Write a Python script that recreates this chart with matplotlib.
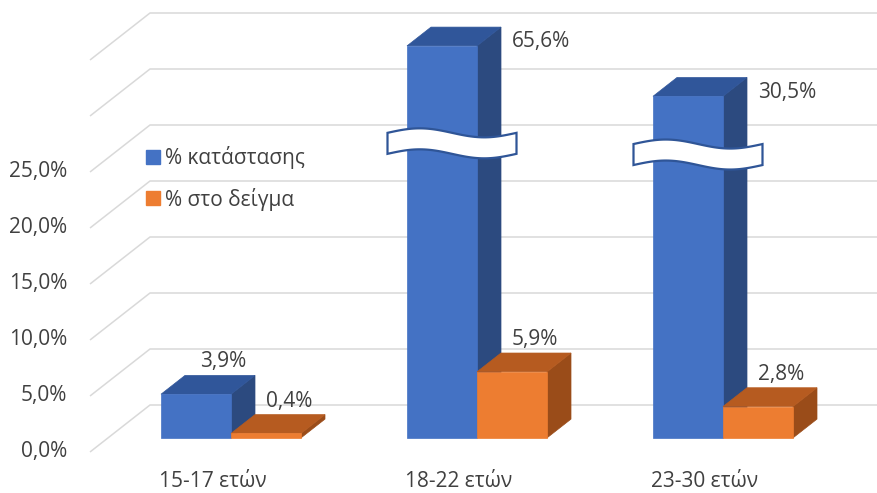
import matplotlib
matplotlib.use('Agg')
import matplotlib.pyplot as plt
import numpy as np
from matplotlib.patches import Polygon
from matplotlib.lines import Line2D

# ---------------- data ----------------
categories = ['15-17 ετών', '18-22 ετών', '23-30 ετών']
series_names = ['% κατάστασης', '% στο δείγμα']
pct_state = [3.9, 65.6, 30.5]
pct_sample = [0.4, 5.9, 2.8]
y_ticks = [0, 5, 10, 15, 20, 25]
grid_levels = [0, 5, 10, 15, 20, 25, 30, 35]
axis_max = 35
break_levels = [None, 26.3, 25.3]   # where the axis-break ribbon sits on the blue bar

# ---------------- style ----------------
FONT = 'Open Sans'
TXT = '#404040'
GRID = '#D9D9D9'
blue = dict(front='#4472C4', top='#30569A', side='#2C4A7F')
orange = dict(front='#ED7D31', top='#B65B20', side='#9A4C19')

PX_X = 246.0          # pixels per category unit
PX_Y = 11.2           # pixels per percentage point
DX = 60 / PX_X        # depth offset (full depth) in data units
DY = 47 / PX_Y
W = 70 / PX_X         # bar width
Z0, Z1 = 0.3, 0.7     # bar depth range

fig = plt.figure(figsize=(8.77, 4.93), dpi=100)
ax = fig.add_axes([0, 0, 1, 1])
ax.set_xlim(-213 / PX_X, 664 / PX_X)
ax.set_ylim((452 - 493) / PX_Y, 452 / PX_Y)
ax.set_axis_off()


def P(x, v, z):
    return (x + z * DX, v + z * DY)


# gridlines: left wall diagonal + back wall horizontal
x_left = -0.5
x_right = 3.0
for g in grid_levels:
    pts = [P(x_left, g, 0), P(x_left, g, 1), P(x_right, g, 1)]
    ax.plot([p[0] for p in pts], [p[1] for p in pts], color=GRID, lw=1.1,
            solid_capstyle='butt', zorder=1)

# y tick labels
for t in y_ticks:
    ax.text(x_left - 23 / PX_X, t, f'{t:.1f}%'.replace('.', ','), ha='right', va='center',
            fontsize=15, color=TXT, family=FONT)

# category labels
for i, c in enumerate(categories):
    ax.text(i, -2.6, c, ha='center', va='center', fontsize=15, color=TXT, family=FONT)


def draw_bar(x0, val, col, zo):
    h = min(val, axis_max)
    x1 = x0 + W
    side = [P(x1, 0, Z0), P(x1, 0, Z1), P(x1, h, Z1), P(x1, h, Z0)]
    top = [P(x0, h, Z0), P(x1, h, Z0), P(x1, h, Z1), P(x0, h, Z1)]
    front = [P(x0, 0, Z0), P(x1, 0, Z0), P(x1, h, Z0), P(x0, h, Z0)]
    for poly, key in ((side, 'side'), (top, 'top'), (front, 'front')):
        ax.add_patch(Polygon(poly, closed=True, facecolor=col[key], edgecolor=col[key],
                             lw=0.5, zorder=zo))
    return h


def fmt(v):
    return f'{v:.1f}%'.replace('.', ',')


LBL_OFF = 9.8  # points above the back edge of the bar top

for i in range(len(categories)):
    hb = draw_bar(i - W, pct_state[i], blue, 3 + i * 2)
    ho = draw_bar(i, pct_sample[i], orange, 4 + i * 2)

    # blue label
    if break_levels[i] is None:
        cx, cy = P(i - W / 2, hb, 0.5)
        ax.annotate(fmt(pct_state[i]), (cx + 15 / PX_X, P(0, hb, Z1)[1]),
                    xytext=(0, LBL_OFF), textcoords='offset points', ha='center', va='center',
                    fontsize=15, color=TXT, family=FONT, zorder=20)
    else:
        rx, _ = P(i, hb, Z1)
        ax.annotate(fmt(pct_state[i]), (rx, P(0, hb, Z0)[1]),
                    xytext=(8, 3), textcoords='offset points', ha='left', va='center',
                    fontsize=15, color=TXT, family=FONT, zorder=20)
        # break ribbon (on the front face of the bar)
        yc = P(0, break_levels[i], Z0)[1]
        xl = P(i - W, 0, Z0)[0] - 19.5 / PX_X
        xr = P(i, 0, Z1)[0] + 15.5 / PX_X
        t = np.linspace(0, 1, 60)
        xs = xl + (xr - xl) * t
        amp = 4.5 / PX_Y
        half = 10.5 / PX_Y
        wave = yc + amp * np.sin(2 * np.pi * t)
        poly = np.vstack([np.column_stack([xs, wave + half]),
                          np.column_stack([xs[::-1], (wave - half)[::-1]])])
        ax.add_patch(Polygon(poly, closed=True, facecolor='white', edgecolor='#2F5597',
                             lw=1.6, zorder=15))

    # orange label
    cx, _ = P(i + W / 2, ho, 0.5)
    ax.annotate(fmt(pct_sample[i]), (cx + 11 / PX_X, P(0, ho, Z1)[1]),
                xytext=(0, LBL_OFF), textcoords='offset points', ha='center', va='center',
                fontsize=15, color=TXT, family=FONT, zorder=20)

# legend
handles = [Line2D([], [], ls='none', marker='s', markersize=10.5, color=blue['front']),
           Line2D([], [], ls='none', marker='s', markersize=10.5, color=orange['front'])]
ax.legend(handles, series_names, loc='upper left', bbox_to_anchor=(146 / 877, 1 - 146 / 493),
          frameon=False, prop={'family': FONT, 'size': 15}, labelcolor=TXT,
          handlelength=0.7, handletextpad=0.2, labelspacing=0.9, borderaxespad=0,
          borderpad=0)

fig.savefig('out.png', dpi=100)
